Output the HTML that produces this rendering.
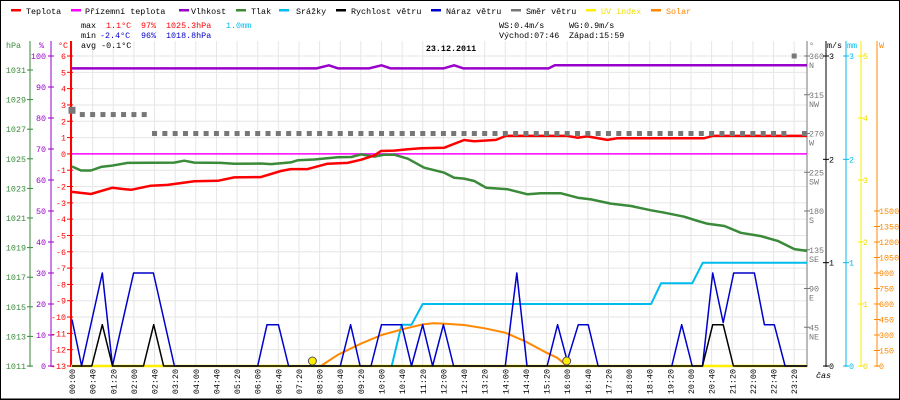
<!DOCTYPE html>
<html><head><meta charset="utf-8"><style>
body{margin:0;background:#fff}
#wrap{position:relative;width:900px;height:400px;box-sizing:border-box;border:1px solid #000;overflow:hidden;background:#fff}
svg{position:absolute;left:0;top:0}
text{font-family:"Liberation Mono",monospace;font-size:8.4px}
</style></head><body>
<div id="wrap">
<svg id="svg" width="900" height="400" viewBox="0 0 900 400"></svg>
</div>
<script>
// ---- data (hours of day, values) ----
const tempTimes=[0,0.61,1.31,1.64,1.91,2.55,3.09,3.95,4.71,5.24,6.1,6.75,7.07,7.61,8.26,8.9,9.33,9.77,9.98,10.41,10.85,11.28,12.03,12.67,13.0,13.7,14.02,16.0,16.33,16.65,17.3,17.63,20.43,20.7,23.75];
const tempValues=[-2.33,-2.46,-2.07,-2.15,-2.2,-1.95,-1.9,-1.68,-1.65,-1.44,-1.42,-1.05,-0.93,-0.93,-0.6,-0.55,-0.36,-0.09,0.18,0.2,0.28,0.34,0.38,0.85,0.78,0.86,1.1,1.1,0.99,1.07,0.86,0.96,0.96,1.1,1.1];
const presTimes=[0,0.29,0.61,0.94,1.26,1.8,3.3,3.63,3.95,4.81,5.24,6.1,6.43,7.07,7.29,7.83,8.58,9.02,9.34,9.77,10.09,10.41,10.85,11.38,12.03,12.35,12.67,13.0,13.38,14.08,14.72,15.15,15.8,16.34,16.77,17.41,18.06,18.71,19.14,19.78,20.22,20.54,21.08,21.61,22.26,22.8,23.34,23.75];
const presValues=[1024.48,1024.21,1024.21,1024.45,1024.53,1024.72,1024.74,1024.87,1024.74,1024.72,1024.66,1024.68,1024.64,1024.76,1024.9,1024.95,1025.1,1025.12,1025.3,1025.15,1025.28,1025.28,1025.01,1024.4,1024.06,1023.72,1023.66,1023.5,1023.05,1022.94,1022.6,1022.67,1022.67,1022.37,1022.26,1021.97,1021.81,1021.52,1021.36,1021.09,1020.8,1020.61,1020.46,1020.0,1019.78,1019.45,1018.9,1018.78];
const humTimes=[0,7.9,8.3,8.6,9.6,10.0,10.3,12.0,12.35,12.65,15.4,15.6,23.75];
const humValues=[96,96,97,96,96,97,96,96,97,96,96,97,97];
const appTimes=[0,23.75];
const appValues=[0,0];
const gustTimes=[0,0.31,0.98,1.31,1.99,2.63,3.31,6.0,6.3,6.67,7.0,8.67,9.0,9.31,9.66,10.0,10.65,10.97,11.33,11.65,12.0,12.33,14.0,14.37,14.7,15.35,15.69,16.0,16.36,16.68,17.0,19.38,19.7,20.04,20.37,20.7,21.04,21.38,22.05,22.37,22.69,23.04,23.75];
const gustValues=[0.45,0,0.9,0,0.9,0.9,0,0,0.4,0.4,0,0,0.4,0,0,0.4,0.4,0,0.4,0,0.4,0,0,0.9,0,0,0.4,0.05,0.4,0.4,0,0,0.4,0,0,0.9,0.42,0.9,0.9,0.4,0.4,0,0];
const windTimes=[0,0.64,0.98,1.31,2.31,2.64,2.96,20.37,20.7,21.04,21.37,23.75];
const windValues=[0,0,0.4,0,0,0.4,0,0,0.4,0.4,0,0];
const rainTimes=[10.33,10.65,10.97,11.33,18.71,19.03,20.04,20.38,23.75];
const rainValues=[0,0.4,0.4,0.6,0.6,0.8,0.8,1.0,1.0];
const solarTimes=[8.04,8.6,9.33,10.0,10.67,11.33,11.67,12.0,12.67,13.33,14.0,14.67,15.33,15.67,16.0];
const solarValues=[0,110,216,300,355,403,413,410,397,365,322,235,129,80,0];
const dirValues=[297,292,292,292,292,292,292,292,270,270,270,270,270,270,270,270,270,270,270,270,270,270,270,270,270,270,270,270,270,270,270,270,270,270,270,270,270,270,270,270,270,270,270,270,270,270,270,270,270,270,270,270,270,270,270,270,270,270,270,270,270,270,270,270,270,270,270,270,270,270,360,270];
const tempTicks=[6,5,4,3,2,1,0,-1,-2,-3,-4,-5,-6,-7,-8,-9,-10,-11,-12,-13];
const presTicks=[1011,1013,1015,1017,1019,1021,1023,1025,1027,1029,1031];
const humTicks=[0,10,20,30,40,50,60,70,80,90,100];
const dirTicks=[45,90,135,180,225,270,315,360];
const dirNames=["NE","E","SE","S","SW","W","NW","N"];
const msTicks=[0,1,2,3];
const mmTicks=[0,1,2,3];
const uvTicks=[0,1,2,3,4,5];
const wTicks=[0,150,300,450,600,750,900,1050,1200,1350,1500];
const sunTimes=[7.767,15.983];

// ---- scales ----
const X0=71,PX=30.95,YB=365,YT=55,H=YB-YT;
const xT=h=>X0+h*PX;
const yC=t=>YB-(t+13)/19*H;
const yP=p=>YB-(p-1011)*14.8;
const yH=v=>YB-v/100*H;
const yM=v=>YB-v/3*H;
const yR=v=>YB-v/3*H;
const yU=v=>YB-v/5*H;
const yW=v=>YB-v/3000*H;
const yD=v=>YB-v/360*H;

const svg=document.getElementById('svg');
const NS='http://www.w3.org/2000/svg';
function mk(tag,attrs,parent){const e=document.createElementNS(NS,tag);for(const k in attrs)e.setAttribute(k,attrs[k]);(parent||svg).appendChild(e);return e;}
function txt(x,y,s,fill,anchor,extra){const e=mk('text',Object.assign({x:x,y:y,fill:fill||'#000','text-anchor':anchor||'start'},extra||{}));e.textContent=s;return e;}

// grid
const grid=mk('g',{stroke:'#e6e6e6','stroke-width':1});


for(const t of tempTicks){mk('line',{x1:70,x2:806,y1:yC(t),y2:yC(t)},grid);}
for(let k=0;k<36;k++){const x=xT(k*2/3);mk('line',{x1:x,x2:x,y1:40,y2:YB},grid);}

// axes
function vaxis(x,color,name,w){const l=mk('line',{x1:x,x2:x,y1:40,y2:YB+1,stroke:color,'stroke-width':w||1});}
vaxis(29,'#3a8a3a','hpa-axis');vaxis(50,'#9900cc','humidity-axis');vaxis(70,'#ff0000','temperature-axis',2);
vaxis(806,'#777','direction-axis');vaxis(825,'#000','wind-speed-axis');vaxis(845,'#00bbee','rain-axis');vaxis(860,'#ffee00','uv-axis');vaxis(876,'#ff8800','solar-axis');
const lab=mk('g',{});


for(const p of presTicks){const y=yP(p);mk('line',{x1:26,x2:32,y1:y,y2:y,stroke:'#3a8a3a'},lab);const t=txt(25,y+3,String(p),'#3a8a3a','end');lab.appendChild(t);}
for(const v of humTicks){const y=yH(v);mk('line',{x1:47,x2:53,y1:y,y2:y,stroke:'#9900cc'},lab);const t=txt(45,y+3,String(v),'#9900cc','end');lab.appendChild(t);}
for(const v of tempTicks){const y=yC(v);mk('line',{x1:66,x2:72,y1:y,y2:y,stroke:'#ff0000'},lab);const t=txt(65,y+3,String(v),'#ff0000','end');lab.appendChild(t);}
dirTicks.forEach((v,i)=>{const y=yD(v);mk('line',{x1:803,x2:809,y1:y,y2:y,stroke:'#777'},lab);txt(808,y+3,String(v),'#777');txt(808,y+12,dirNames[i],'#777');});
for(const v of msTicks){const y=yM(v);mk('line',{x1:822,x2:828,y1:y,y2:y,stroke:'#000'});txt(828,y+3,String(v),'#000');}
for(const v of mmTicks){const y=yR(v);mk('line',{x1:842,x2:848,y1:y,y2:y,stroke:'#00bbee'});txt(848,y+3,String(v),'#00bbee');}
for(const v of uvTicks){const y=yU(v);mk('line',{x1:857,x2:863,y1:y,y2:y,stroke:'#ffee00'});txt(862,y+3,String(v),'#eedd00');}
for(const v of wTicks){const y=yW(v);mk('line',{x1:873,x2:879,y1:y,y2:y,stroke:'#ff8800'});txt(878,y+3,String(v),'#ff8800');}
txt(5,47,'hPa','#3a8a3a');txt(38,47,'%','#9900cc');txt(57,47,'°C','#ff0000');
txt(808,47,'°','#777');txt(826,47,'m/s','#000');txt(846,47,'mm','#00bbee');txt(878,47,'W','#ff8800');
txt(815,377,'čas','#000','start',{'font-style':'italic'});

// x labels
for(let k=0;k<36;k++){const m=k*40;const s=String(Math.floor(m/60)).padStart(2,'0')+':'+String(m%60).padStart(2,'0');const x=xT(k*2/3)+3;const t=txt(x,368,s,'#000','end',{transform:`rotate(-90 ${x} 368)`});}

// series
function line(times,vals,ys,color,w,name){const pts=times.map((h,i)=>xT(h).toFixed(1)+','+ys(vals[i]).toFixed(1)).join(' ');const p=mk('polyline',{points:pts,fill:'none',stroke:color,'stroke-width':w,'stroke-linejoin':'round'});return p;}
const uv=mk('line',{x1:70,x2:806,y1:YB,y2:YB,stroke:'#ffee00','stroke-width':2.5});


line(appTimes,appValues,yC,'#ff00ff',1.5,'apparent-temperature-line');
line(humTimes,humValues,yH,'#9900cc',2.5,'humidity-line');
line(presTimes,presValues,yP,'#3a8a3a',2.5,'pressure-line');
line(tempTimes,tempValues,yC,'#ff0000',2.5,'temperature-line');
line(rainTimes,rainValues,yR,'#00bbee',2,'rain-line');
line(solarTimes,solarValues,yW,'#ff8800',2,'solar-line');
line(gustTimes,gustValues,yM,'#0000cc',1.5,'wind-gust-line');
line(windTimes,windValues,yM,'#000',1.5,'wind-speed-line');
dirValues.forEach((d,i)=>{const x=xT(i/3),y=yD(d);const s=i===0?7:5;const r=mk('rect',{x:x-s/2,y:y-s/2,width:s,height:s,fill:'#777'});});
sunTimes.forEach(h=>{const c=mk('circle',{cx:xT(h),cy:YB-5,r:4,fill:'#ffee00',stroke:'#555','stroke-width':1});});

// legend
const legend=[["Teplota","#ff0000",10,25],["Přízemní teplota","#ff00ff",70,84],["Vlhkost","#9900cc",178,190],["Tlak","#3a8a3a",235,250],["Srážky","#00bbee",278,295],["Rychlost větru","#000",335,350],["Náraz větru","#0000cc",430,445],["Směr větru","#777",510,525],["UV index","#ffee00",585,600],["Solar","#ff8800",650,665]];
for(const [name,col,dx,tx] of legend){const g=mk('g',{});mk('rect',{x:dx,y:8,width:10,height:2.5,fill:col},g);const t=txt(tx,13,name,name==="UV index"?'#eedd00':(name==="Solar"?'#ff8800':'#000'));g.appendChild(t);}
// stats
txt(80,27,'max');txt(105,27,'1.1°C','#ff0000');txt(140,27,'97%','#ff0000');txt(165,27,'1025.3hPa','#ff0000');txt(225,27,'1.0mm','#00bbee');
txt(80,37,'min');txt(99,37,'-2.4°C','#0000cc');txt(140,37,'96%','#0000cc');txt(165,37,'1018.8hPa','#0000cc');
txt(80,47,'avg -0.1°C');
txt(498,27,'WS:0.4m/s');txt(568,27,'WG:0.9m/s');txt(498,37,'Východ:07:46');txt(568,37,'Západ:15:59');
const title=txt(450,50,'23.12.2011','#000','middle',{'font-weight':'bold','font-size':'12.5px','font-family':'Liberation Sans, sans-serif'});


mk('line',{x1:0,x2:900,y1:398,y2:398,stroke:'#000'});
</script>
</body></html>
